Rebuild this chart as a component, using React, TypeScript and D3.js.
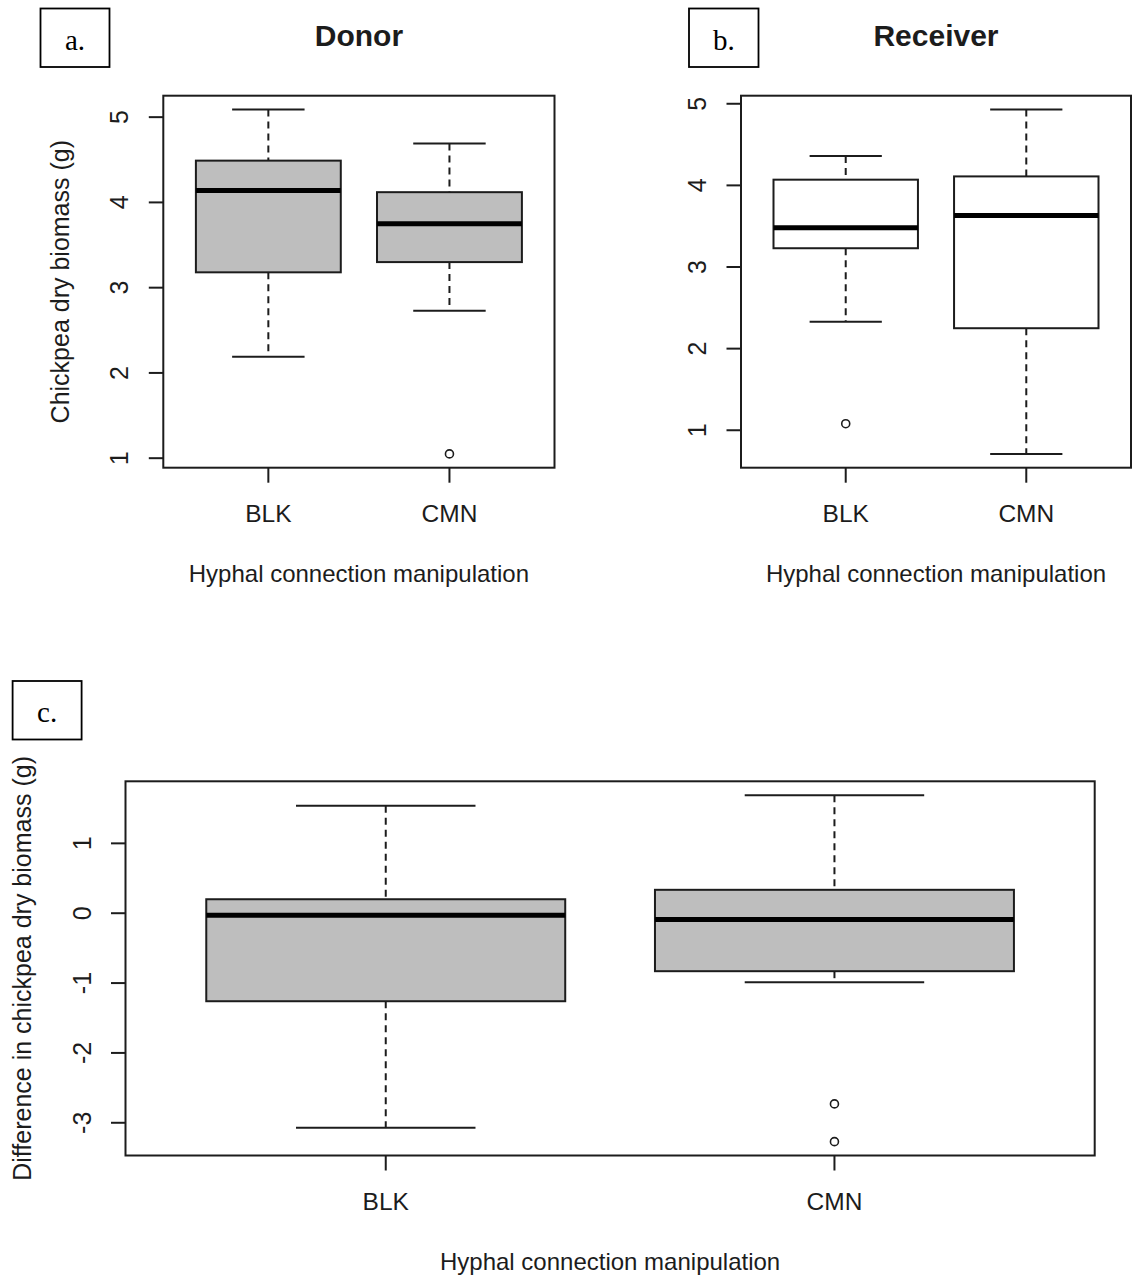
import React from "react";
import * as d3 from "d3";

const categories = ["BLK", "CMN"];
// per group: [lower whisker, Q1, median, Q3, upper whisker]
const donorStats = [
  [2.19, 3.18, 4.14, 4.49, 5.09],
  [2.73, 3.3, 3.75, 4.12, 4.69],
];
const donorOutliers = [[], [1.05]];
const receiverStats = [
  [2.33, 3.23, 3.48, 4.07, 4.36],
  [0.71, 2.25, 3.63, 4.11, 4.93],
];
const receiverOutliers = [[1.08], []];
const diffStats = [
  [-3.07, -1.26, -0.03, 0.2, 1.54],
  [-0.99, -0.83, -0.09, 0.335, 1.69],
];
const diffOutliers = [[], [-2.73, -3.27]];
const biomassTicks = [1, 2, 3, 4, 5];
const diffTicks = [-3, -2, -1, 0, 1];

const SANS = "'Liberation Sans', Arial, Helvetica, sans-serif";
const SERIF = "'Liberation Serif', 'Times New Roman', serif";
const INK = "#1c1c1c";

type PanelProps = {
  left: number;
  right: number;
  top: number;
  bottom: number;
  stats: number[][];
  outliers: number[][];
  ticks: number[];
  fill: string;
  title?: string;
  yTitle?: string;
  xTitle: string;
};

function BoxPanel(p: PanelProps) {
  const all = p.stats.flat().concat(p.outliers.flat());
  const [lo, hi] = d3.extent(all) as [number, number];
  const pad = (hi - lo) * 0.04;
  const y = d3.scaleLinear().domain([lo - pad, hi + pad]).range([p.bottom, p.top]);
  const n = categories.length;
  const xpad = n * 0.04;
  const x = d3
    .scaleLinear()
    .domain([0.5 - xpad, n + 0.5 + xpad])
    .range([p.left, p.right]);
  const bw = x(1.4) - x(1); // half box width (0.8 total)
  const cw = bw / 2; // half staple width
  const cx = (p.left + p.right) / 2;
  const cy = (p.top + p.bottom) / 2;
  return (
    <g>
      {p.title && (
        <text x={cx} y={46} textAnchor="middle" fontFamily={SANS} fontWeight="bold" fontSize={30} fill={INK}>
          {p.title}
        </text>
      )}
      {categories.map((c, i) => {
        const s = p.stats[i];
        const xc = x(i + 1);
        return (
          <g key={c}>
            <line x1={xc} x2={xc} y1={y(s[4])} y2={y(s[3])} stroke={INK} strokeWidth={2} strokeDasharray="7,5" />
            <line x1={xc} x2={xc} y1={y(s[1])} y2={y(s[0])} stroke={INK} strokeWidth={2} strokeDasharray="7,5" />
            <line x1={xc - cw} x2={xc + cw} y1={y(s[4])} y2={y(s[4])} stroke={INK} strokeWidth={2} />
            <line x1={xc - cw} x2={xc + cw} y1={y(s[0])} y2={y(s[0])} stroke={INK} strokeWidth={2} />
            <rect
              x={xc - bw}
              y={y(s[3])}
              width={2 * bw}
              height={y(s[1]) - y(s[3])}
              fill={p.fill}
              stroke={INK}
              strokeWidth={2}
            />
            <line x1={xc - bw} x2={xc + bw} y1={y(s[2])} y2={y(s[2])} stroke="#000" strokeWidth={5} />
            {p.outliers[i].map((o, j) => (
              <circle key={j} cx={xc} cy={y(o)} r={4} fill="none" stroke={INK} strokeWidth={1.6} />
            ))}
            <line x1={xc} x2={xc} y1={p.bottom} y2={p.bottom + 15} stroke={INK} strokeWidth={2} />
            <text x={xc} y={p.bottom + 54.5} textAnchor="middle" fontFamily={SANS} fontSize={24.5} fill={INK}>
              {c}
            </text>
          </g>
        );
      })}
      {p.ticks.map((t) => (
        <g key={t}>
          <line x1={p.left - 14.5} x2={p.left} y1={y(t)} y2={y(t)} stroke={INK} strokeWidth={2} />
          <text
            transform={`translate(${p.left - 35},${y(t)}) rotate(-90)`}
            textAnchor="middle"
            fontFamily={SANS}
            fontSize={25}
            fill={INK}
          >
            {t}
          </text>
        </g>
      ))}
      <rect
        x={p.left}
        y={p.top}
        width={p.right - p.left}
        height={p.bottom - p.top}
        fill="none"
        stroke={INK}
        strokeWidth={2}
      />
      <text x={cx} y={p.bottom + 114} textAnchor="middle" fontFamily={SANS} fontSize={24} fill={INK}>
        {p.xTitle}
      </text>
      {p.yTitle && (
        <text
          transform={`translate(${p.left - 94.5},${cy}) rotate(-90)`}
          textAnchor="middle"
          fontFamily={SANS}
          fontSize={25}
          fill={INK}
        >
          {p.yTitle}
        </text>
      )}
    </g>
  );
}

function LabelBox({ x, y, w, h, label }: { x: number; y: number; w: number; h: number; label: string }) {
  return (
    <g>
      <rect x={x} y={y} width={w} height={h} fill="white" stroke="#000" strokeWidth={1.8} />
      <text x={x + w / 2} y={y + 41} textAnchor="middle" fontFamily={SERIF} fontSize={29} fill="#000">
        {label}
      </text>
    </g>
  );
}

export default function App() {
  const xTitle = "Hyphal connection manipulation";
  return (
    <svg
      width={1133}
      height={1276}
      style={{ position: "absolute", left: 0, top: 0, background: "white" }}
    >
      <rect x={0} y={0} width={1133} height={1276} fill="white" />
      <BoxPanel
        left={163.3}
        right={554.5}
        top={95.7}
        bottom={467.7}
        stats={donorStats}
        outliers={donorOutliers}
        ticks={biomassTicks}
        fill="#bebebe"
        title="Donor"
        yTitle="Chickpea dry biomass (g)"
        xTitle={xTitle}
      />
      <BoxPanel
        left={741}
        right={1131}
        top={95.7}
        bottom={467.7}
        stats={receiverStats}
        outliers={receiverOutliers}
        ticks={biomassTicks}
        fill="white"
        title="Receiver"
        xTitle={xTitle}
      />
      <BoxPanel
        left={125.5}
        right={1094.7}
        top={781.3}
        bottom={1155.5}
        stats={diffStats}
        outliers={diffOutliers}
        ticks={diffTicks}
        fill="#bebebe"
        yTitle="Difference in chickpea dry biomass (g)"
        xTitle={xTitle}
      />
      <LabelBox x={40.5} y={8.5} w={69} h={58.5} label="a." />
      <LabelBox x={689} y={8.5} w={69.5} h={58.5} label="b." />
      <LabelBox x={12.6} y={681} w={69} h={58.5} label="c." />
    </svg>
  );
}
